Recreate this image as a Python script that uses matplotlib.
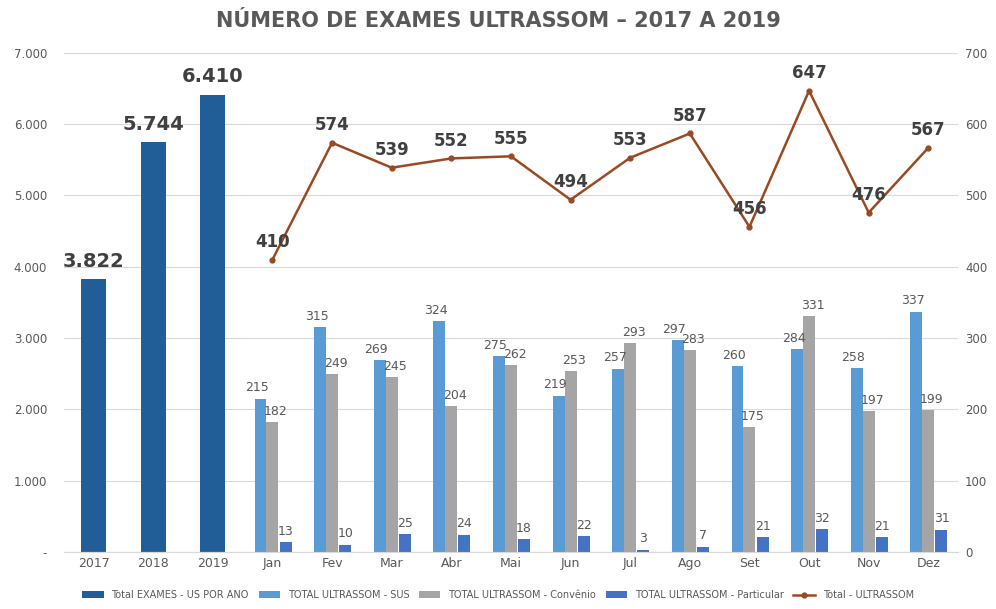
import matplotlib.pyplot as plt
from matplotlib.ticker import FuncFormatter
import numpy as np

# Dados
anos = ['2017', '2018', '2019']
total_ano = [3822, 5744, 6410]
meses = ['Jan', 'Fev', 'Mar', 'Abr', 'Mai', 'Jun', 'Jul', 'Ago', 'Set', 'Out', 'Nov', 'Dez']
sus = [215, 315, 269, 324, 275, 219, 257, 297, 260, 284, 258, 337]
convenio = [182, 249, 245, 204, 262, 253, 293, 283, 175, 331, 197, 199]
particular = [13, 10, 25, 24, 18, 22, 3, 7, 21, 32, 21, 31]
total_mes = [410, 574, 539, 552, 555, 494, 553, 587, 456, 647, 476, 567]

# Cores
c_ano = '#215E98'
c_sus = '#5B9BD5'
c_conv = '#A5A5A5'
c_part = '#4472C4'
c_linha = '#9A4A22'
c_txt = '#595959'

def milhar(v, pos):
    if v == 0:
        return '-'
    return f'{int(v):,}'.replace(',', '.')

fig = plt.figure(figsize=(9.96, 6.09), dpi=100)
ax = fig.add_axes([0.064, 0.094, 0.898, 0.819])
ax2 = ax.twinx()

x_ano = np.arange(len(anos))
x_mes = np.arange(len(meses)) + len(anos)

# Barras anuais (eixo esquerdo)
b_ano = ax.bar(x_ano, total_ano, width=0.42, color=c_ano, label='Total EXAMES - US POR ANO')
for xi, v in zip(x_ano, total_ano):
    ax.text(xi, v + 120, milhar(v, None), ha='center', va='bottom',
            fontsize=14, fontweight='bold', color='#404040')

# Barras mensais (eixo direito)
w = 0.2
b_sus = ax2.bar(x_mes - w, sus, width=w, color=c_sus, label='TOTAL ULTRASSOM - SUS')
b_conv = ax2.bar(x_mes, convenio, width=w, color=c_conv, label='TOTAL ULTRASSOM - Convênio')
b_part = ax2.bar(x_mes + 1.1 * w, particular, width=w, color=c_part, label='TOTAL ULTRASSOM - Particular')

for xs, vals in [(x_mes - w - 0.06, sus), (x_mes + 0.06, convenio), (x_mes + 1.1 * w, particular)]:
    for xi, v in zip(xs, vals):
        ax2.text(xi, v + 6, str(v), ha='center', va='bottom', fontsize=9, color=c_txt)

# Linha total mensal
l_tot, = ax2.plot(x_mes, total_mes, color=c_linha, lw=1.8, marker='o', ms=3.5,
                  label='Total - ULTRASSOM')
for xi, v in zip(x_mes, total_mes):
    ax2.text(xi, v + 12, str(v), ha='center', va='bottom', fontsize=12,
             fontweight='bold', color='#404040')

# Eixos
ax.set_xlim(-0.5, len(anos) + len(meses) - 0.5)
ax.set_ylim(0, 7000)
ax2.set_ylim(0, 700)
ax.set_yticks(np.arange(0, 7001, 1000))
ax2.set_yticks(np.arange(0, 701, 100))
ax.yaxis.set_major_formatter(FuncFormatter(milhar))
ax.set_xticks(np.concatenate([x_ano, x_mes]))
ax.set_xticklabels(anos + meses)

ax.yaxis.grid(True, color='#D9D9D9', lw=0.8)
ax.set_axisbelow(True)
for a in (ax, ax2):
    for s in ['top', 'left', 'right']:
        a.spines[s].set_visible(False)
    a.spines['bottom'].set_color('#D9D9D9')
    a.tick_params(length=0, colors=c_txt, labelsize=9)
ax.tick_params(axis='y', pad=12, labelsize=8.5)
ax2.tick_params(axis='y', pad=5, labelsize=8.5)

fig.text(0.5, 0.966, 'NÚMERO DE EXAMES ULTRASSOM – 2017 A 2019', ha='center', va='center',
         fontsize=15, fontweight='bold', color=c_txt)

fig.legend(handles=[b_ano, b_sus, b_conv, b_part, l_tot], loc='lower center',
           bbox_to_anchor=(0.5, 0.0), ncol=5, fontsize=7, frameon=False,
           handlelength=2.2, columnspacing=1.0, labelcolor=c_txt)

fig.savefig('out.png', dpi=100)
